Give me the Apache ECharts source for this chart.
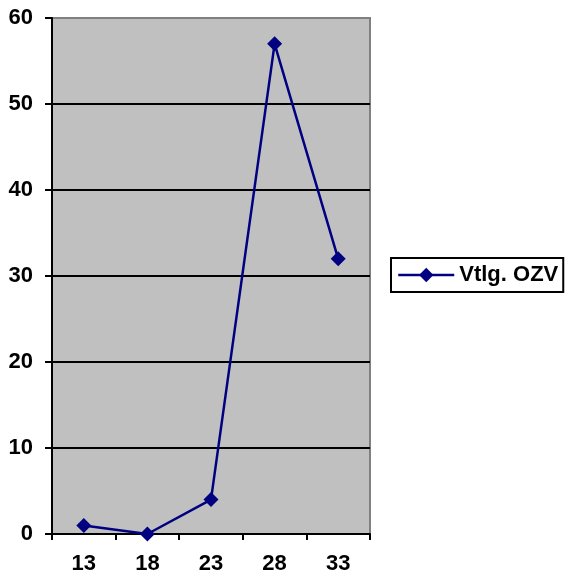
<!DOCTYPE html>
<html>
<head>
<meta charset="utf-8">
<script src="https://cdn.jsdelivr.net/npm/echarts@6/dist/echarts.min.js"></script>
<style>html,body{margin:0;padding:0;background:#fff;}#c{width:567px;height:578px;}</style>
</head>
<body>
<div id="c"></div>
<script>
const categories = ['13', '18', '23', '28', '33'];
const seriesName = 'Vtlg. OZV';
const values = [1, 0, 4, 57, 32];
const yMin = 0, yMax = 60, yStep = 10;

const font = '"Liberation Sans", Arial, sans-serif';
const chart = echarts.init(document.getElementById('c'), null, {renderer: 'canvas'});
chart.setOption({
  animation: false,
  backgroundColor: '#ffffff',
  grid: {
    left: 52, top: 18, width: 318, height: 516,
    show: true, backgroundColor: '#c0c0c0', borderColor: '#808080', borderWidth: 2
  },
  legend: {
    data: [seriesName],
    left: 391, top: 258,
    orient: 'vertical',
    padding: [6, 5, 6, 6],
    borderColor: '#000', borderWidth: 2,
    itemWidth: 56, itemHeight: 18,
    lineStyle: {width: 2.5},
    textStyle: {fontFamily: font, fontWeight: 'bold', fontSize: 22, color: '#000'}
  },
  xAxis: {
    type: 'category', data: categories, boundaryGap: true,
    axisLine: {lineStyle: {color: '#000', width: 2}},
    axisTick: {show: true, length: 6, lineStyle: {color: '#000', width: 2}},
    axisLabel: {margin: 19, fontFamily: font, fontWeight: 'bold', fontSize: 22, color: '#000'}
  },
  yAxis: {
    type: 'value', min: yMin, max: yMax, interval: yStep,
    axisLine: {show: true, lineStyle: {color: '#000', width: 2}},
    axisTick: {show: true, length: 7, lineStyle: {color: '#000', width: 2}},
    axisLabel: {margin: 19, fontFamily: font, fontWeight: 'bold', fontSize: 22, color: '#000'},
    splitLine: {show: true, showMaxLine: false, showMinLine: false, lineStyle: {color: '#000', width: 2}}
  },
  series: [{
    name: seriesName, type: 'line', data: values,
    symbol: 'diamond', symbolSize: 15,
    lineStyle: {color: '#000080', width: 2.5},
    itemStyle: {color: '#000080'}
  }]
});
</script>
</body>
</html>
